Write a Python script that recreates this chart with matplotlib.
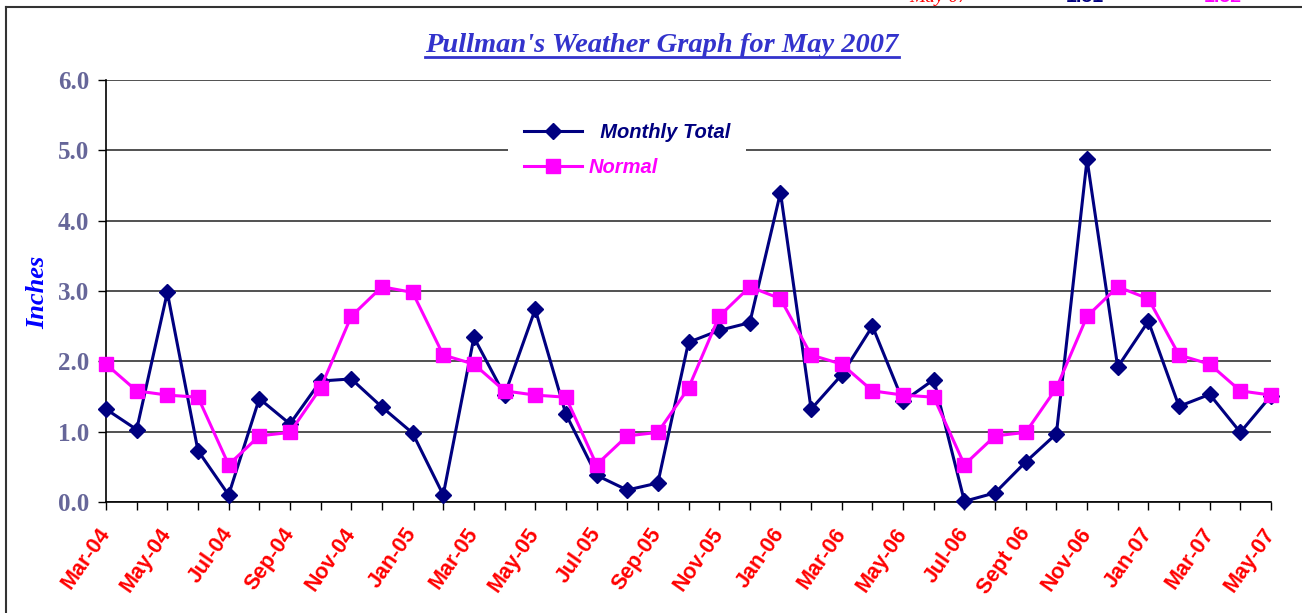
import matplotlib
matplotlib.use("Agg")
import matplotlib.pyplot as plt
from matplotlib.lines import Line2D

# monthly precipitation, Mar-04 .. May-07 (inches)
monthly_total = [1.32, 1.03, 2.98, 0.73, 0.10, 1.47, 1.11, 1.72, 1.75, 1.35, 0.98, 0.10,
                 2.34, 1.52, 2.74, 1.25, 0.38, 0.17, 0.27, 2.27, 2.44, 2.55, 4.40, 1.32,
                 1.81, 2.50, 1.43, 1.74, 0.01, 0.13, 0.57, 0.97, 4.87, 1.92, 2.57, 1.36,
                 1.53, 0.99, 1.51]
normal = [1.96, 1.58, 1.52, 1.49, 0.53, 0.94, 0.99, 1.62, 2.64, 3.06, 2.98, 2.09,
          1.96, 1.58, 1.52, 1.49, 0.53, 0.94, 0.99, 1.62, 2.64, 3.06, 2.89, 2.09,
          1.96, 1.58, 1.52, 1.49, 0.53, 0.94, 0.99, 1.62, 2.64, 3.06, 2.89, 2.09,
          1.96, 1.58, 1.52]
# labels shown on every other month
tick_labels = ["Mar-04", "May-04", "Jul-04", "Sep-04", "Nov-04", "Jan-05", "Mar-05",
               "May-05", "Jul-05", "Sep-05", "Nov-05", "Jan-06", "Mar-06", "May-06",
               "Jul-06", "Sept 06", "Nov-06", "Jan-07", "Mar-07", "May-07"]
yticks = [0, 1, 2, 3, 4, 5, 6]

W, H = 1302, 613
fig = plt.figure(figsize=(W / 100, H / 100), dpi=100)
ax = fig.add_axes([106 / W, 1 - 502 / H, (1271 - 106) / W, (502 - 80) / H])

x = list(range(len(monthly_total)))
ax.plot(x, monthly_total, color="#000080", lw=2.2, marker="D", ms=8,
        label="  Monthly Total", clip_on=False, zorder=3)
ax.plot(x, normal, color="#FF00FF", lw=2.2, marker="s", ms=9.5,
        label="Normal", clip_on=False, zorder=4)

ax.set_xlim(0, len(x) - 1)
ax.set_ylim(0, 6)
ax.set_yticks(yticks)
ax.set_yticklabels([f"{v:.1f}" for v in yticks], family="Liberation Serif",
                   fontweight="bold", fontsize=18, color="#666699")
ax.yaxis.grid(True, color="#333333", lw=1.2)
ax.set_axisbelow(True)

xl = [tick_labels[i // 2] if i % 2 == 0 else "" for i in x]
ax.set_xticks(x)
ax.set_xticklabels(xl, rotation=55, ha="right", va="center", rotation_mode="anchor",
                   family="Liberation Sans", fontweight="bold", fontsize=15.5, color="red")
ax.tick_params(axis="x", length=6, width=1, color="black", pad=14)
ax.tick_params(axis="y", length=6, width=1, color="black", pad=6)

for s in ["top", "right"]:
    ax.spines[s].set_visible(False)
for s in ["left", "bottom"]:
    ax.spines[s].set_color("black")
    ax.spines[s].set_linewidth(1.2)

leg = ax.legend(loc="center", bbox_to_anchor=(627 / W, 1 - 150 / H),
                bbox_transform=fig.transFigure, frameon=True, facecolor="white",
                edgecolor="none", framealpha=1, handlelength=2.9, handletextpad=0.3,
                labelspacing=0.75, borderpad=0.8,
                prop={"family": "Liberation Sans", "weight": "bold",
                      "style": "italic", "size": 14.5})
for t, c in zip(leg.get_texts(), ["#000080", "#FF00FF"]):
    t.set_color(c)

fig.text(38 / W, 1 - 292 / H, "Inches", rotation=90, ha="center", va="center",
         family="Liberation Serif", fontweight="bold", style="italic",
         fontsize=19, color="#0000FF")

title = fig.text(662 / W, 1 - 52 / H, "Pullman's Weather Graph for May 2007",
                 ha="center", va="baseline", family="Liberation Serif",
                 fontweight="bold", style="italic", fontsize=20.5, color="#3333CC")

# border of the chart object
fig.add_artist(Line2D([6 / W, 1], [1 - 7 / H, 1 - 7 / H], color="#333333", lw=1.5))
fig.add_artist(Line2D([6 / W, 6 / W], [0, 1 - 7 / H], color="#333333", lw=1.5))

# cut-off row of the sheet above the chart
fig.text(909 / W, 1 - 2 / H, "May 07", color="red", family="Liberation Serif",
         style="italic", fontsize=14, va="baseline")
fig.text(1066 / W, 1 - 2 / H, "1.51", color="#000080", family="Liberation Sans",
         fontweight="bold", fontsize=14, va="baseline")
fig.text(1204 / W, 1 - 2 / H, "1.52", color="#FF00FF", family="Liberation Sans",
         fontweight="bold", fontsize=14, va="baseline")

# underline the title
fig.canvas.draw()
bb = title.get_window_extent().transformed(fig.transFigure.inverted())
fig.add_artist(Line2D([bb.x0, bb.x1], [1 - 57 / H, 1 - 57 / H], color="#3333CC", lw=2))

fig.savefig("out.png", dpi=100)
